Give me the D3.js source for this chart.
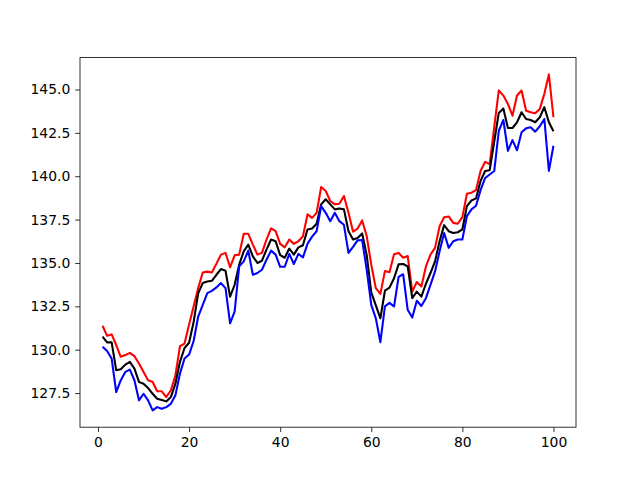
<!DOCTYPE html>
<html>
<head>
<meta charset="utf-8">
<script src="https://cdn.jsdelivr.net/npm/d3@7"></script>
<style>
    html, body { margin: 0; padding: 0; background: #fff; }
    .tick text { font-family: "DejaVu Sans", sans-serif; font-size: 13.9px; fill: #000; }
</style>
</head>
<body>
<svg id="chart" width="640" height="480"></svg>
<script>

// x positions, 1..100
const steps = d3.range(1, 101);

// upper line (red)
const upperValues = [
    131.38, 130.80, 130.88, 130.27, 129.59, 129.69, 129.82, 129.63, 129.20, 128.72,
    128.24, 128.14, 127.60, 127.60, 127.27, 127.66, 128.53, 130.20, 130.35, 131.45,
    132.50, 133.55, 134.45, 134.50, 134.45, 134.95, 135.48, 135.58, 134.75, 135.44,
    135.48, 136.68, 136.68, 136.06, 135.48, 135.58, 136.35, 136.99, 136.83, 136.10,
    135.90, 136.35, 136.10, 136.25, 136.54, 137.80, 137.60, 137.89, 139.38, 139.15,
    138.57, 138.38, 138.41, 138.86, 137.90, 136.80, 136.98, 137.45, 136.55, 134.90,
    133.55, 133.22, 134.53, 134.47, 135.50, 135.58, 135.30, 135.40, 133.35, 133.90,
    133.64, 134.80, 135.48, 135.87, 137.12, 137.64, 137.68, 137.31, 137.26, 137.64,
    138.99, 139.05, 139.20, 140.30, 140.83, 140.70, 142.85, 144.95, 144.65, 144.17,
    143.49, 144.65, 144.94, 143.78, 143.69, 143.63, 143.88, 144.75, 145.87, 143.40
];

// middle line (black)
const middleValues = [
    130.75, 130.42, 130.42, 128.82, 128.87, 129.14, 129.30, 128.91, 128.14, 128.04,
    127.79, 127.46, 127.17, 127.10, 127.02, 127.27, 128.04, 129.30, 130.10, 130.40,
    131.60, 133.25, 133.84, 133.93, 133.97, 134.32, 134.65, 134.55, 133.06, 133.74,
    134.90, 135.67, 136.06, 135.38, 135.00, 135.13, 135.77, 136.35, 136.25, 135.45,
    135.30, 135.83, 135.48, 135.90, 136.02, 136.93, 136.99, 137.26, 138.38, 138.67,
    138.38, 138.09, 138.14, 138.09, 136.83, 136.35, 136.44, 136.70, 135.45, 133.30,
    132.55, 131.81, 133.40, 133.58, 134.12, 134.92, 134.94, 134.80, 132.97, 133.35,
    133.06, 133.80, 134.42, 135.09, 136.25, 137.18, 136.83, 136.73, 136.77, 136.93,
    138.28, 138.60, 138.72, 139.73, 140.30, 140.35, 142.00, 143.65, 143.90, 142.78,
    142.78, 143.11, 143.69, 143.30, 143.24, 143.11, 143.40, 143.98, 143.11, 142.59
];

// lower line (blue)
const lowerValues = [
    130.17, 129.92, 129.49, 127.56, 128.24, 128.72, 128.85, 128.24, 127.08, 127.46,
    127.08, 126.50, 126.69, 126.59, 126.69, 126.88, 127.37, 128.62, 129.49, 129.72,
    130.50, 131.91, 132.58, 133.26, 133.39, 133.59, 133.84, 133.55, 131.52, 132.20,
    134.80, 135.09, 135.71, 134.32, 134.42, 134.61, 135.19, 135.71, 135.48, 134.78,
    134.78, 135.52, 134.94, 135.52, 135.32, 136.10, 136.52, 136.83, 138.28, 137.89,
    137.41, 137.89, 137.41, 137.20, 135.58, 135.93, 136.30, 136.32, 134.61, 132.58,
    131.81, 130.43, 132.50, 132.70, 132.49, 134.20, 134.35, 132.30, 131.85, 132.82,
    132.52, 132.97, 133.74, 134.51, 135.67, 136.73, 135.87, 136.25, 136.35, 136.35,
    137.70, 138.09, 138.30, 139.20, 139.90, 140.10, 140.30, 142.62, 143.24, 141.47,
    142.08, 141.50, 142.53, 142.76, 142.82, 142.57, 142.88, 143.30, 140.31, 141.76
];

const xTicks = [0, 20, 40, 60, 80, 100];
const yTicks = [127.5, 130.0, 132.5, 135.0, 137.5, 140.0, 142.5, 145.0];

const seriesColors = ['#ff0000', '#000000', '#0000ff'];

(function () {

    let width = 640,
        height = 480,
        margin = {left: 80, right: 64, top: 57.6, bottom: 52.8},
        tickLen = 4.86,
        tickPad = 4.86;

    let svg = d3.select('#chart');

    let plotW = width - margin.left - margin.right,
        plotH = height - margin.top - margin.bottom;

    let g = svg.append('g')
        .attr('transform', 'translate(' + margin.left + ',' + margin.top + ')');

    //matplotlib style auto margins: 5% of data range on each side
    let xExt = d3.extent(steps);
    let xPad = (xExt[1] - xExt[0]) * 0.05;
    let all = upperValues.concat(middleValues, lowerValues);
    let yExt = d3.extent(all);
    let yPad = (yExt[1] - yExt[0]) * 0.05;

    let x = d3.scaleLinear()
        .domain([xExt[0] - xPad, xExt[1] + xPad])
        .range([0, plotW]);

    let y = d3.scaleLinear()
        .domain([yExt[0] - yPad, yExt[1] + yPad])
        .range([plotH, 0]);

    let line = d3.line()
        .x(function (d, i) { return x(steps[i]); })
        .y(function (d) { return y(d); });

    let series = [upperValues, middleValues, lowerValues];

    g.selectAll('.series')
        .data(series)
        .enter().append('path')
        .attr('class', 'series')
        .attr('d', line)
        .attr('fill', 'none')
        .attr('stroke', function (d, i) { return seriesColors[i]; })
        .attr('stroke-width', 2.08)
        .attr('stroke-linejoin', 'round')
        .attr('stroke-linecap', 'butt');

    //axes
    let xAxis = d3.axisBottom(x)
        .tickValues(xTicks)
        .tickFormat(d3.format('d'))
        .tickSizeInner(tickLen)
        .tickSizeOuter(0)
        .tickPadding(tickPad);

    let yAxis = d3.axisLeft(y)
        .tickValues(yTicks)
        .tickFormat(d3.format('.1f'))
        .tickSizeInner(tickLen)
        .tickSizeOuter(0)
        .tickPadding(tickPad);

    let gx = g.append('g')
        .attr('transform', 'translate(0,' + plotH + ')')
        .call(xAxis);

    let gy = g.append('g')
        .call(yAxis);

    [gx, gy].forEach(function (a) {
        a.select('.domain').remove();
        a.selectAll('.tick line').attr('stroke', '#000').attr('stroke-width', 0.8);
    });

    //spines drawn as a frame on top
    g.append('rect')
        .attr('x', 0)
        .attr('y', 0)
        .attr('width', plotW)
        .attr('height', plotH)
        .attr('fill', 'none')
        .attr('stroke', '#000')
        .attr('stroke-width', 0.8);

}());

</script>
</body>
</html>
